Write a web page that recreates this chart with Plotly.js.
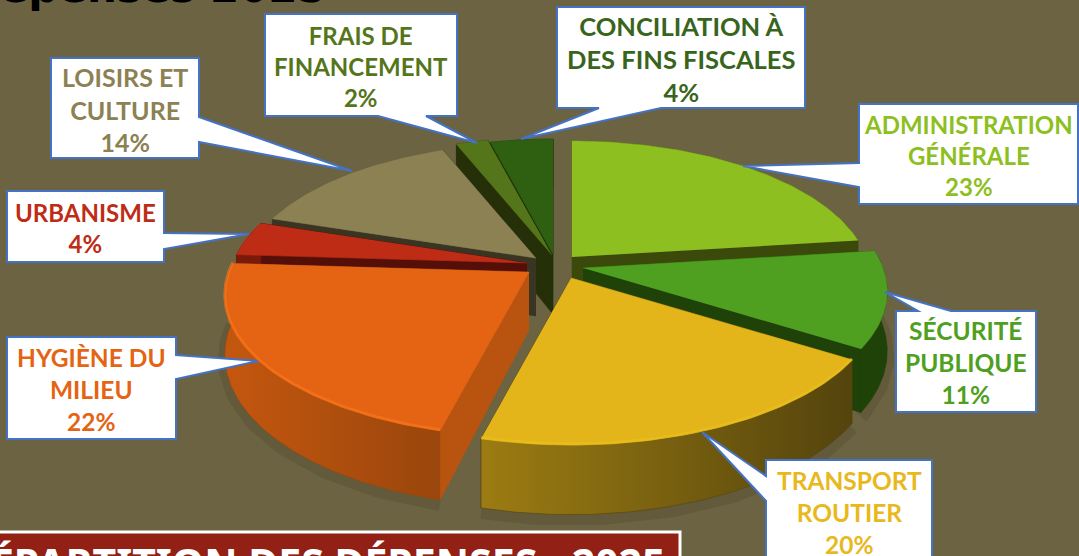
<!DOCTYPE html>
<html>
<head>
<meta charset="utf-8">
<script src="https://cdn.plot.ly/plotly-3.0.1.min.js"></script>
<style>html,body{margin:0;padding:0;background:#6C6342;overflow:hidden}#c{width:1079px;height:556px}</style>
</head>
<body>
<div id="c"></div>
<script>
// ---- chart data ----
var labels = ['ADMINISTRATION<br>GÉNÉRALE','SÉCURITÉ<br>PUBLIQUE','TRANSPORT<br>ROUTIER','HYGIÈNE DU<br>MILIEU','URBANISME','LOISIRS ET<br>CULTURE','FRAIS DE<br>FINANCEMENT','CONCILIATION À<br>DES FINS FISCALES'];
var values = [23,11,20,22,4,14,2,4];
// ---- styling ----
var topColors  = ['#8DBF21','#4F9F20','#E3B51A','#E56414','#BE2C15','#8C8153','#55751A','#2F6012'];
var textColors = ['#8DBF21','#4F9F20','#E8B81C','#E56414','#BE2C15','#8C8153','#55751A','#38651B'];
var textSizes  = [24,24.5,24.5,24.5,24,25,24,25.5];
var cutColors  = ['#3B4A0B','#1F4208','#54440D','#B8540F','#530F08','#3A3522','#252F08','#1A3306'];
var wallLeft   = ['#3B4A0B','#1F4208','#9C7C12','#C4570F','#7A1A0C','#3A3522','#252F08','#1A3306'];
var wallRight  = ['#3B4A0B','#1F4208','#54440D','#9A460C','#7A1A0C','#3A3522','#252F08','#1A3306'];
var rimColors  = [null,null,'#EDC21E','#FF7A1C',null,null,null,null];
var tipX = [572,583,571,529,527,536,552,553];
var tipY = [257,268,278,272,263,258,255,254];
var radius = [0.98,1,1.01,1,0.98,0.97,1,0.97];
var drawOrder = [7,6,5,4,0,1,3,2];
var RX=300, RY=137.6, K=0.166, DEPTH=58;
var boxes = [
 {x0:859,y0:104,x1:1078,y1:204,side:'l',a:163,t:[743,166],b:187},
 {x0:896,y0:311,x1:1036,y1:412,side:'t',a:951,t:[885,292],b:918},
 {x0:766,y0:460,x1:932,y1:575,side:'l',a:476,t:[702,432],b:501},
 {x0:7,y0:337,x1:176,y1:439,side:'r',a:355,t:[258,361],b:379},
 {x0:7,y0:191,x1:164,y1:262,side:'r',a:233,t:[249,234],b:249},
 {x0:51,y0:58,x1:199,y1:158,side:'r',a:117,t:[352,171],b:142},
 {x0:265,y0:14,x1:457,y1:116,side:'b',a:426,t:[477,143],b:378},
 {x0:557,y0:7,x1:805,y1:108,side:'b',a:661,t:[521,139],b:599}
];
var titleTop = 'Dépenses 2025';
var titleBottom = 'RÉPARTITION DES DÉPENSES - 2025';

// ---- geometry derived from the values ----
function proj(i,deg,r,dz){
  var t=deg*Math.PI/180, X=r*Math.sin(t), Y=r*Math.cos(t), s=1/(1+K*Y);
  return [tipX[i]+X*RX*s, tipY[i]-Y*RY*s+(dz?DEPTH*s:0)];
}
var total=values.reduce(function(a,b){return a+b},0), start=[], acc=0;
values.forEach(function(v){start.push(acc/total*360);acc+=v;});
function arc(i,dz,a,b){
  var p=[],r=radius[i];a=a===undefined?start[i]:a;b=b===undefined?start[i]+values[i]/total*360:b;
  for(var d=a;d<b;d+=1)p.push(proj(i,d,r,dz));
  p.push(proj(i,b,r,dz));return p;
}
function poly(pts,color,grad){
  var tr={type:'scatter',mode:'lines',x:pts.map(function(p){return p[0]}),y:pts.map(function(p){return p[1]}),
    fill:'toself',line:{width:0.6,color:grad?grad[1]:color},hoverinfo:'skip',showlegend:false};
  if(grad){var xs=tr.x;tr.fillgradient={type:'horizontal',start:Math.min.apply(null,xs),stop:Math.max.apply(null,xs),colorscale:[[0,grad[0]],[1,grad[1]]]};}
  else tr.fillcolor=color;
  return tr;
}
var traces=[];
// soft shadow under front slices
[1,2,3].forEach(function(i){
  var p=arc(i,true);
  traces.push({type:'scatter',mode:'lines',x:p.map(function(q){return q[0]}),y:p.map(function(q){return q[1]+4}),
    line:{width:14,color:'rgba(80,74,46,0.35)'},hoverinfo:'skip',showlegend:false});
});
drawOrder.forEach(function(i){
  var end=start[i]+values[i]/total*360, top=arc(i,false), low=arc(i,true);
  var tip=[tipX[i],tipY[i]], tipLow=[tipX[i],tipY[i]+DEPTH];
  // cut walls
  traces.push(poly([tip,proj(i,start[i],radius[i],false),proj(i,start[i],radius[i],true),tipLow],cutColors[i]));
  traces.push(poly([tip,proj(i,end,radius[i],false),proj(i,end,radius[i],true),tipLow],cutColors[i]));
  // outer wall
  traces.push(poly(top.concat(low.slice().reverse()),wallLeft[i],[wallLeft[i],wallRight[i]]));
  // top face
  traces.push(poly([tip].concat(top),topColors[i]));
  // rim highlight
  if(rimColors[i]){
    var rr=arc(i,false,Math.max(start[i],90),end).map(function(q){return [q[0],q[1]-1]});
    traces.push({type:'scatter',mode:'lines',x:rr.map(function(q){return q[0]}),y:rr.map(function(q){return q[1]}),
      line:{width:3,color:rimColors[i]},opacity:0.55,hoverinfo:'skip',showlegend:false});
  }
});

// ---- callouts ----
function calloutPath(b){
  var t=b.t, s='M'+b.x0+','+b.y0;
  if(b.side==='t') s+=' L'+b.b+','+b.y0+' L'+t[0]+','+t[1]+' L'+b.a+','+b.y0;
  s+=' L'+b.x1+','+b.y0;
  if(b.side==='r') s+=' L'+b.x1+','+b.a+' L'+t[0]+','+t[1]+' L'+b.x1+','+b.b;
  s+=' L'+b.x1+','+b.y1;
  if(b.side==='b') s+=' L'+b.a+','+b.y1+' L'+t[0]+','+t[1]+' L'+b.b+','+b.y1;
  s+=' L'+b.x0+','+b.y1;
  if(b.side==='l') s+=' L'+b.x0+','+b.b+' L'+t[0]+','+t[1]+' L'+b.x0+','+b.a;
  return s+' Z';
}
var shapes=boxes.map(function(b){return {type:'path',xref:'x',yref:'y',path:calloutPath(b),fillcolor:'#FFFFFF',line:{color:'#4472C4',width:2},layer:'above'};});
shapes.push({type:'rect',xref:'x',yref:'y',x0:-5,x1:680,y0:532,y1:570,fillcolor:'#922015',line:{color:'#FFFFFF',width:3},layer:'above'});

var FONT='Lato, "Noto Sans", sans-serif';
var annotations=labels.map(function(l,i){
  var b=boxes[i], cy=(b.y0+Math.min(b.y1,b.y0+102))/2+1;
  return {xref:'x',yref:'y',x:(b.x0+b.x1)/2,y:cy,text:'<b>'+l+'<br>'+values[i]+'%</b>',showarrow:false,align:'center',
    xanchor:'center',yanchor:'middle',font:{family:FONT,size:textSizes[i],color:textColors[i]}};
});
annotations.push({xref:'x',yref:'y',x:668,y:533,xanchor:'right',yanchor:'top',showarrow:false,text:'<b>'+titleBottom+'</b>',font:{family:'"Noto Sans",sans-serif',size:41,color:'#FFFFFF'}});
annotations.push({xref:'x',yref:'y',x:329,y:14,xanchor:'right',yanchor:'bottom',showarrow:false,text:'<b>'+titleTop+'</b>',font:{family:'"DejaVu Sans",sans-serif',size:42,color:'#000000'}});

Plotly.newPlot('c',traces,{
  width:1079,height:556,margin:{l:0,r:0,t:0,b:0},
  paper_bgcolor:'#6C6342',plot_bgcolor:'#6C6342',showlegend:false,
  xaxis:{range:[0,1079],visible:false,fixedrange:true},
  yaxis:{range:[556,0],visible:false,fixedrange:true},
  shapes:shapes,annotations:annotations
},{displayModeBar:false,staticPlot:true});
</script>
</body>
</html>
